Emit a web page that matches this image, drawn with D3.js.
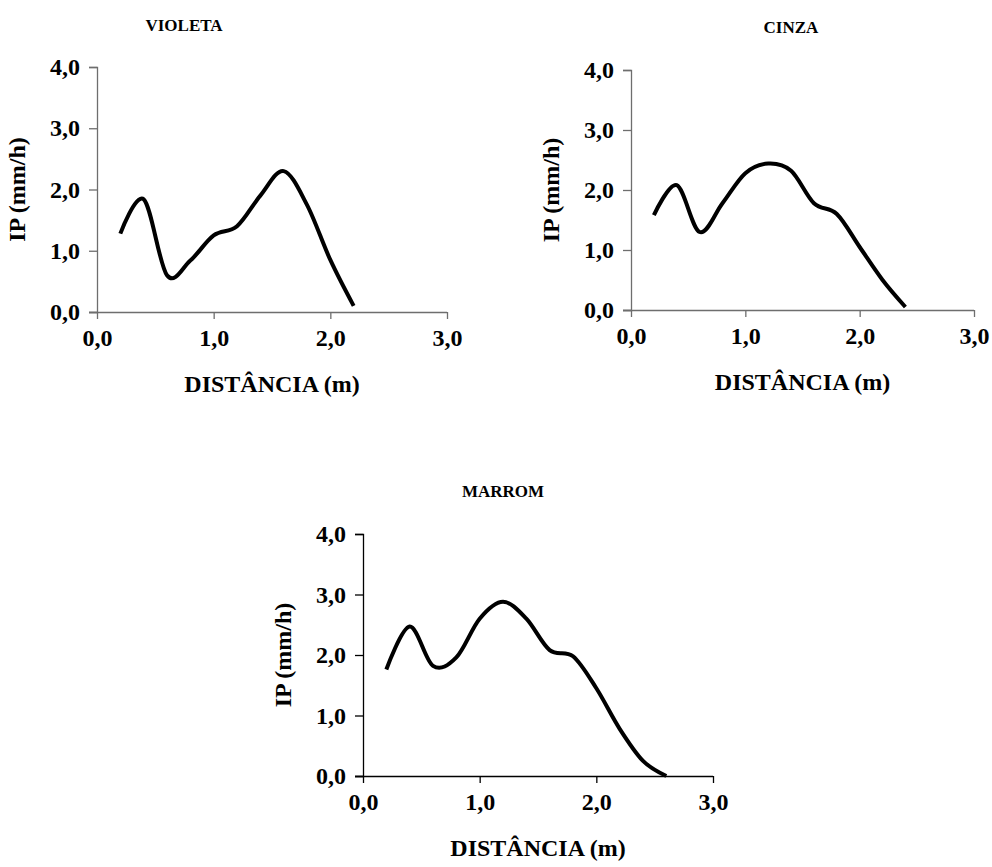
<!DOCTYPE html>
<html>
<head>
<meta charset="utf-8">
<script src="https://cdn.jsdelivr.net/npm/d3@7"></script>
<style>
  html, body { margin: 0; padding: 0; background: #fff; }
  svg { display: block; }
</style>
</head>
<body>
<svg id="chart" width="992" height="867"></svg>
<script>
// ---- data ----
const violetaDist = [0.2, 0.4, 0.6, 0.8, 1.0, 1.2, 1.4, 1.6, 1.8, 2.0, 2.2];
const violetaIP   = [1.28, 1.84, 0.6, 0.84, 1.25, 1.4, 1.9, 2.3, 1.75, 0.85, 0.1];

const cinzaDist = [0.2, 0.4, 0.6, 0.8, 1.0, 1.2, 1.4, 1.6, 1.8, 2.0, 2.2, 2.4];
const cinzaIP   = [1.58, 2.08, 1.3, 1.78, 2.28, 2.44, 2.32, 1.78, 1.6, 1.05, 0.5, 0.05];

const marromDist = [0.2, 0.4, 0.6, 0.8, 1.0, 1.2, 1.4, 1.6, 1.8, 2.0, 2.2, 2.4, 2.6];
const marromIP   = [1.76, 2.47, 1.82, 1.96, 2.6, 2.88, 2.6, 2.08, 1.98, 1.45, 0.78, 0.25, 0.0];

const xTicks = [0, 1, 2, 3];
const yTicks = [0, 1, 2, 3, 4];
const titles = ["VIOLETA", "CINZA", "MARROM"];
const xTitle = "DISTÂNCIA (m)";
const yTitle = "IP (mm/h)";

const FONT = "'Liberation Serif', 'Times New Roman', 'DejaVu Serif', serif";
const fmt = v => d3.format(".1f")(v).replace(".", ",");

const svg = d3.select("#chart");

function drawChart(title, dist, ip, box, axisColor) {
  const x = d3.scaleLinear().domain([0, 3]).range([box.x0, box.x1]);
  const y = d3.scaleLinear().domain([0, 4]).range([box.y0, box.y1]);
  const g = svg.append("g");

  const xAxis = g.append("g").attr("transform", `translate(0,${box.y0})`)
    .call(d3.axisBottom(x).tickValues(xTicks).tickFormat(fmt).tickSize(7).tickPadding(10));
  const yAxis = g.append("g").attr("transform", `translate(${box.x0},0)`)
    .call(d3.axisLeft(y).tickValues(yTicks).tickFormat(fmt).tickSize(8).tickPadding(9));
  [xAxis, yAxis].forEach(a => {
    a.attr("font-family", FONT).attr("font-size", 24).attr("font-weight", "bold");
    a.select(".domain").attr("stroke", axisColor).attr("stroke-width", 1.3);
    a.selectAll(".tick line").attr("stroke", axisColor).attr("stroke-width", 1.3);
    a.selectAll(".tick text").attr("fill", "#000");
  });
  xAxis.select(".domain").attr("d", `M${box.x0 - 8},0.5H${box.x1}`);

  g.append("path")
    .datum(dist.map((d, i) => [d, ip[i]]))
    .attr("fill", "none")
    .attr("stroke", "#000")
    .attr("stroke-width", 4)
    .attr("stroke-linejoin", "round")
    .attr("d", d3.line().x(d => x(d[0])).y(d => y(d[1])).curve(d3.curveCardinal.tension(0)));

  const txt = sel => sel.attr("font-family", FONT).attr("font-weight", "bold").attr("fill", "#000");
  g.append("text").call(txt).attr("x", box.tx).attr("y", box.ty).attr("text-anchor", "middle")
    .attr("font-size", 17).text(title);
  g.append("text").call(txt).attr("x", (box.x0 + box.x1) / 2).attr("y", box.y0 + 80).attr("text-anchor", "middle")
    .attr("font-size", 24).text(xTitle);
  g.append("text").call(txt).attr("transform", `translate(${box.x0 - 72},${(box.y0 + box.y1) / 2}) rotate(-90)`)
    .attr("text-anchor", "middle").attr("font-size", 24).text(yTitle);
}

drawChart(titles[0], violetaDist, violetaIP, {x0: 97, x1: 447, y0: 312, y1: 67, tx: 184, ty: 31}, "#6e6e6e");
drawChart(titles[1], cinzaDist, cinzaIP, {x0: 631, x1: 974, y0: 310, y1: 70, tx: 791, ty: 33}, "#6e6e6e");
drawChart(titles[2], marromDist, marromIP, {x0: 363, x1: 713, y0: 776, y1: 534, tx: 503, ty: 497}, "#000");
</script>
</body>
</html>
